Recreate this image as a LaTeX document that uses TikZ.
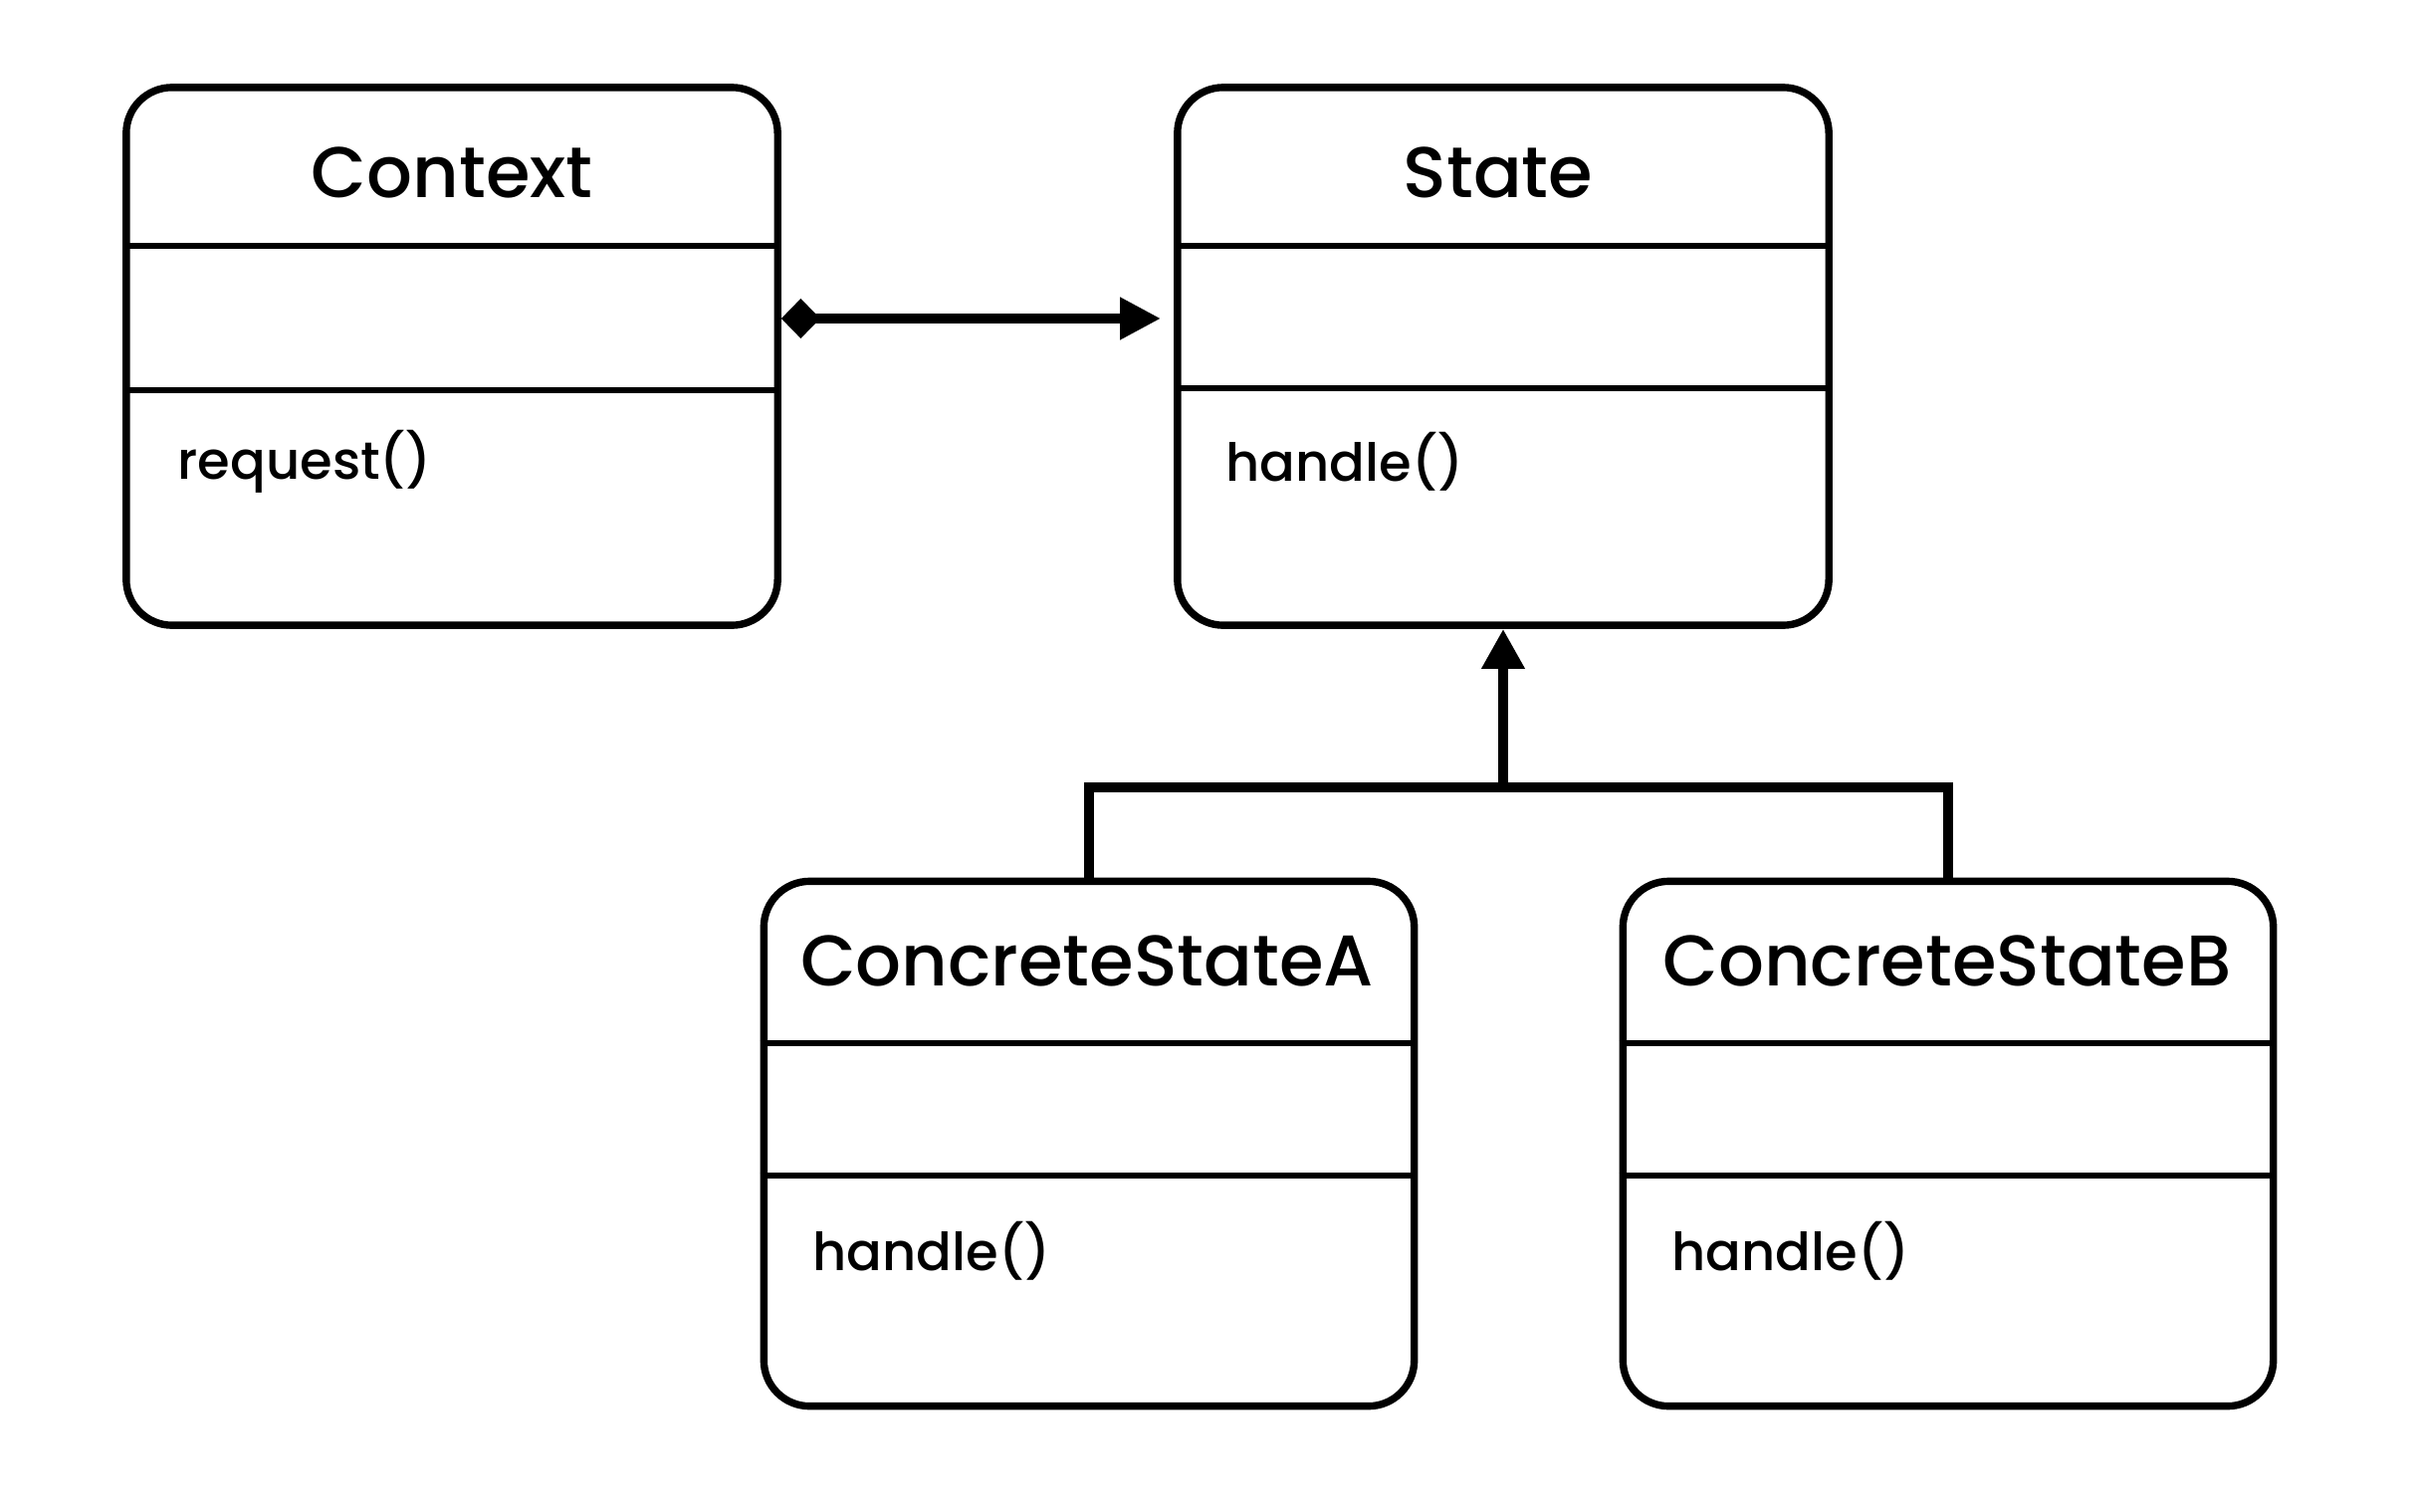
\documentclass[tikz,border=0pt]{standalone}
\usepackage{fontspec}
\setmainfont{Poppins Medium}
\usetikzlibrary{arrows.meta}
\begin{document}
\begin{tikzpicture}[x=0.01cm,y=-0.01cm,
  classbox/.style={draw=black,line width=2.1pt,rounded corners=0.46cm,fill=white,
    minimum width=6.54cm,minimum height=5.4cm,inner sep=0pt},
  divider/.style={line width=1.7pt},
  title/.style={font=\fontsize{20.5}{24}\selectfont,inner sep=0pt},
  method/.style={font=\fontsize{15}{18}\selectfont,inner sep=0pt,anchor=west},
  link/.style={line width=3pt},
  compose/.style={link,{Diamond[length=0.39cm,width=0.40cm]}-{Triangle[length=0.41cm,width=0.40cm]}},
  inherit/.style={link,-{Triangle[length=0.40cm,width=0.41cm]}}]
\useasboundingbox (0,0) rectangle (2424,1518);
\fill[white] (0,0) rectangle (2424,1518);

% Context
\node[classbox] (ctx) at (454,358) {};
\draw[divider] (ctx.west |- 0,247) -- (ctx.east |- 0,247);
\draw[divider] (ctx.west |- 0,392) -- (ctx.east |- 0,392);
\node[title] (ctxname) at (454,173) {Context};
\node[method] (ctxop) at (178,464) {request()};

% State
\node[classbox] (state) at (1510,358) {};
\draw[divider] (state.west |- 0,247) -- (state.east |- 0,247);
\draw[divider] (state.west |- 0,390) -- (state.east |- 0,390);
\node[title] (statename) at (1505,173) {State};
\node[method] (stateop) at (1231,464) {handle()};

% ConcreteStateA
\node[classbox,minimum width=6.53cm,minimum height=5.27cm] (csa) at (1094,1149) {};
\draw[divider] (csa.west |- 0,1048) -- (csa.east |- 0,1048);
\draw[divider] (csa.west |- 0,1181) -- (csa.east |- 0,1181);
\node[title] (csaname) at (1092,965) {ConcreteStateA};
\node[method] (csaop) at (816,1257) {handle()};

% ConcreteStateB
\node[classbox,minimum width=6.53cm,minimum height=5.27cm] (csb) at (1957,1149) {};
\draw[divider] (csb.west |- 0,1048) -- (csb.east |- 0,1048);
\draw[divider] (csb.west |- 0,1181) -- (csb.east |- 0,1181);
\node[title] (csbname) at (1956,965) {ConcreteStateB};
\node[method] (csbop) at (1679,1257) {handle()};

% Composition: Context holds a State
\draw[compose,shorten >=0.13cm] ([yshift=0.38cm]ctx.east) -- ([yshift=0.38cm]state.west);

% Generalisation: both concrete states refine State
\coordinate (bus) at (1510,791);
\draw[link] (csa.north) |- (bus) -| (csb.north);
\draw[inherit] (bus) -- (state.south);
\end{tikzpicture}
\end{document}
